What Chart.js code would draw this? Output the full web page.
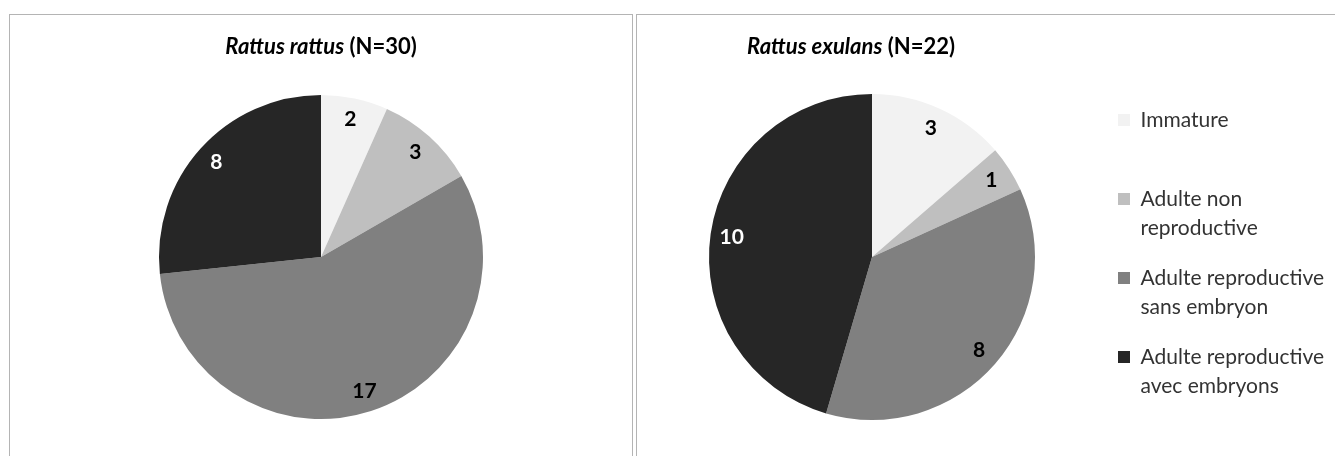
<!DOCTYPE html>
<html>
<head>
<meta charset="utf-8">
<script src="https://cdn.jsdelivr.net/npm/chart.js@4/dist/chart.umd.min.js"></script>
<style>
  body { margin: 0; background: #fff; overflow: hidden; width: 1335px; height: 456px; }
  .panel { position: absolute; top: 14px; height: 460px; border: 1px solid #b4b4b4; background: #fff; }
  #panelLeft { left: 9px; width: 622px; }
  #panelRight { left: 636px; width: 720px; }
  .box { position: relative; height: 441px; }
</style>
</head>
<body>
<div class="panel" id="panelLeft"><div class="box" style="width:622px"><canvas id="ratChart"></canvas></div></div>
<div class="panel" id="panelRight"><div class="box" style="width:698px"><canvas id="exulansChart"></canvas></div></div>
<script>
// categories (legend lines kept as text)
const categories = [
    ['Immature', ''],
    ['Adulte non', 'reproductive'],
    ['Adulte reproductive', 'sans embryon'],
    ['Adulte reproductive', 'avec embryons']
];
const species = ['Rattus rattus', 'Rattus exulans'];
const rattusValues = [2, 3, 17, 8];
const exulansValues = [3, 1, 8, 10];

const sliceColors = ['#f2f2f2', '#bfbfbf', '#808080', '#262626'];
const labelColors = ['#000000', '#000000', '#000000', '#ffffff'];
const fontFamily = 'Lato, "Open Sans", sans-serif';

// number inside each slice
const valueLabels = {
    id: 'valueLabels',
    afterDatasetsDraw(chart, args, opts) {
        const ctx = chart.ctx;
        const meta = chart.getDatasetMeta(0);
        const values = chart.data.datasets[0].data;
        ctx.save();
        ctx.font = 'bold 21px ' + fontFamily;
        ctx.textAlign = 'center';
        ctx.textBaseline = 'middle';
        meta.data.forEach((arc, i) => {
            const p = arc.getProps(['x', 'y', 'startAngle', 'endAngle', 'outerRadius'], true);
            const mid = (p.startAngle + p.endAngle) / 2;
            const r = p.outerRadius * opts.radial;
            ctx.fillStyle = labelColors[i];
            ctx.fillText(String(values[i]), p.x + Math.cos(mid) * r, p.y + Math.sin(mid) * r);
        });
        ctx.restore();
    }
};

// title with italic species name + bold (N=..)
const richTitle = {
    id: 'richTitle',
    afterDraw(chart, args, opts) {
        const ctx = chart.ctx;
        const values = chart.data.datasets[0].data;
        const total = values.reduce((a, b) => a + b, 0);
        const parts = [
            { text: opts.name, font: 'italic bold 22px ' + fontFamily },
            { text: ' (N=' + total + ')', font: 'bold 22px ' + fontFamily }
        ];
        ctx.save();
        let width = 0;
        parts.forEach(p => { ctx.font = p.font; p.w = ctx.measureText(p.text).width; width += p.w; });
        const cx = (chart.chartArea.left + chart.chartArea.right) / 2 + (opts.shift || 0);
        let x = cx - width / 2;
        ctx.fillStyle = '#000';
        ctx.textBaseline = 'middle';
        ctx.textAlign = 'left';
        parts.forEach(p => { ctx.font = p.font; ctx.fillText(p.text, x, opts.y); x += p.w; });
        ctx.restore();
    }
};

function pieConfig(values, name, extra) {
    return {
        type: 'pie',
        data: {
            labels: categories,
            datasets: [{
                data: values,
                backgroundColor: sliceColors,
                borderWidth: 0,
                hoverOffset: 0,
                offset: 0
            }]
        },
        options: {
            responsive: true,
            maintainAspectRatio: false,
            animation: false,
            events: [],
            radius: extra.radius,
            layout: { padding: extra.padding },
            plugins: {
                legend: extra.legend,
                tooltip: { enabled: false },
                valueLabels: { radial: 0.87 },
                richTitle: { name: name, y: 32, shift: extra.titleShift || 0 }
            }
        },
        plugins: [valueLabels, richTitle]
    };
}

window.addEventListener('load', function() {
    new Chart(document.getElementById('ratChart'), pieConfig(rattusValues, species[0], {
        radius: 162,
        padding: { top: 80, bottom: 37, left: 0, right: 0 },
        legend: { display: false }
    }));

    new Chart(document.getElementById('exulansChart'), pieConfig(exulansValues, species[1], {
        radius: 163,
        padding: { top: 43, bottom: 0, left: 10, right: 8 },
        titleShift: -21,
        legend: {
            display: true,
            position: 'right',
            maxWidth: 230,
            labels: {
                boxWidth: 12,
                boxHeight: 12,
                padding: 21,
                color: '#333333',
                font: { family: fontFamily, size: 21, lineHeight: 1.381 }
            }
        }
    }));
});
</script>
</body>
</html>
